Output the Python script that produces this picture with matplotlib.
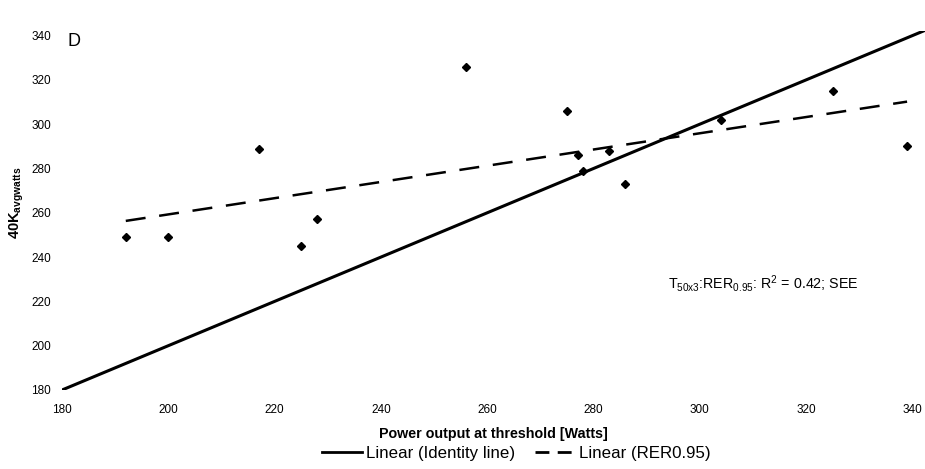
import numpy as np
import matplotlib
matplotlib.use("Agg")
import matplotlib.pyplot as plt
from matplotlib.lines import Line2D

plt.rcParams['font.family'] = ['Liberation Sans', 'DejaVu Sans']

# data
threshold_power = [192, 200, 217, 225, 228, 256, 275, 277, 278, 283, 286, 304, 325, 339]
avg_watts_40k = [249, 249, 289, 245, 257, 326, 306, 286, 279, 288, 273, 302, 315, 290]
identity_range = [180, 345]
x_ticks = [180, 200, 220, 240, 260, 280, 300, 320, 340]
y_ticks = [180, 200, 220, 240, 260, 280, 300, 320, 340]

fig = plt.figure(figsize=(9.25, 4.69), dpi=100)
ax = fig.add_axes([62/925, 1-390/469, (925-62)/925, (390-31)/469])

# identity line
ax.plot(identity_range, identity_range, color='black', lw=2.2, solid_capstyle='butt')
# trend line
coef = np.polyfit(threshold_power, avg_watts_40k, 1)
tx = np.array([min(threshold_power), max(threshold_power)])
ax.plot(tx, np.polyval(coef, tx), color='black', lw=1.8, dashes=(8, 5.5))
# points
ax.plot(threshold_power, avg_watts_40k, linestyle='none', marker='D', markersize=4.5,
        color='black')

ax.set_xlim(180, 180 + (925-62)/5.315)
ax.set_ylim(180, 180 + (390-31)/2.215)
ax.set_xticks(x_ticks)
ax.set_yticks(y_ticks)
ax.tick_params(length=0, labelsize=8.5)
ax.tick_params(axis='x', pad=10)
ax.tick_params(axis='y', pad=8)
for s in ax.spines.values():
    s.set_visible(False)

ax.set_xlabel('Power output at threshold [Watts]', fontsize=10.3, fontweight='bold', labelpad=8)
fig.text(17/925, 1-203/469, r'40K$_{\mathregular{avgwatts}}$', fontsize=10.5, fontweight='bold',
         rotation=90, ha='center', va='center')

ax.text(0.006, 0.972, 'D', transform=ax.transAxes, fontsize=13, va='center', ha='left')
ax.text(294, 228, r'T$_{\mathregular{50x3}}$:RER$_{\mathregular{0.95}}$: R$^{\mathregular{2}}$ = 0.42; SEE',
        fontsize=10.3, va='center', ha='left')

handles = [Line2D([], [], color='black', lw=2.0),
           Line2D([], [], color='black', lw=2.0, dashes=(5, 3))]
fig.legend(handles, ['Linear (Identity line)', 'Linear (RER0.95)'], loc='center',
           bbox_to_anchor=(0.558, 0.034), ncol=2, frameon=False, fontsize=12.2,
           handlelength=2.4, handletextpad=0.2, columnspacing=1.2)

fig.savefig('out.png', dpi=100)
